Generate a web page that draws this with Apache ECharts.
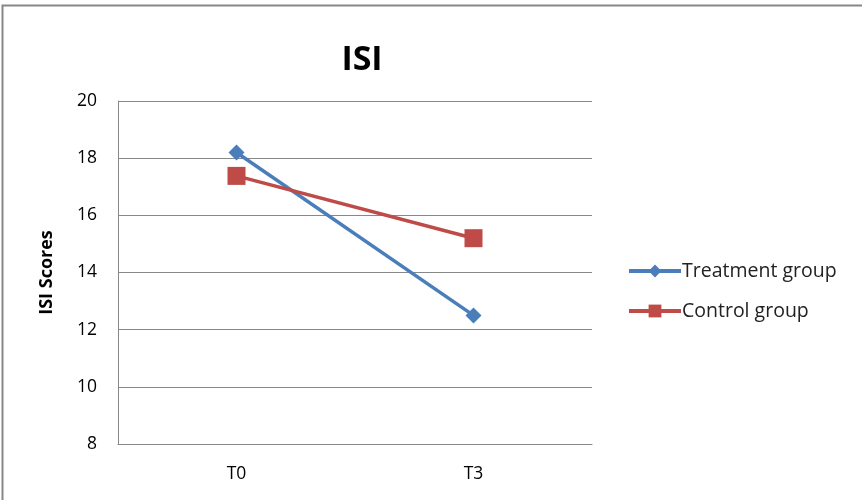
<!DOCTYPE html>
<html><head><meta charset="utf-8">
<script src="https://cdn.jsdelivr.net/npm/echarts@6/dist/echarts.min.js"></script>
<style>html,body{margin:0;padding:0;background:#fff}#c{width:862px;height:500px}</style>
</head><body><div id="c"></div>
<script>
const categories = ['T0', 'T3'];
const treatment = [18.2, 12.5];
const control = [17.38, 15.2];
const yTicks = {min: 8, max: 20, interval: 2};
const chart = echarts.init(document.getElementById('c'));
const font = "'Open Sans', 'Noto Sans', sans-serif";
chart.setOption({
  animation: false,
  backgroundColor: '#fff',
  graphic: [{type: 'rect', shape: {x: 2.5, y: 5.5, width: 900, height: 600}, style: {fill: 'none', stroke: '#878787', lineWidth: 2}, silent: true}],
  title: {text: 'ISI', left: 357, top: 38, textAlign: 'center', textStyle: {fontFamily: font, fontSize: 34, fontWeight: 'bold', color: '#000'}},
  grid: {left: 118, top: 101, width: 474, height: 343, containLabel: false},
  legend: {
    orient: 'vertical', left: 622, top: 256, itemGap: 20, itemWidth: 52, itemHeight: 16,
    lineStyle: {width: 4},
    textStyle: {fontFamily: font, fontSize: 19.5, color: '#222', padding: [0, 0, 0, -4]},
    data: ['Treatment group', 'Control group']
  },
  xAxis: {
    type: 'category', data: categories, boundaryGap: true,
    axisLine: {lineStyle: {color: '#888', width: 1}}, axisTick: {show: false},
    axisLabel: {fontFamily: font, fontSize: 17.5, color: '#000', margin: 21}
  },
  yAxis: {
    type: 'value', min: yTicks.min, max: yTicks.max, interval: yTicks.interval,
    name: 'ISI Scores', nameLocation: 'middle', nameGap: 62, nameRotate: 90,
    nameTextStyle: {fontFamily: font, fontSize: 18, fontWeight: 'bold', color: '#000'},
    axisLine: {show: true, lineStyle: {color: '#888', width: 1}}, axisTick: {show: false},
    splitLine: {lineStyle: {color: '#888', width: 1}},
    axisLabel: {fontFamily: font, fontSize: 17.5, color: '#000', margin: 21}
  },
  series: [
    {name: 'Treatment group', type: 'line', data: treatment, symbol: 'diamond', symbolSize: 16,
     lineStyle: {color: '#4A7EBB', width: 3.5}, itemStyle: {color: '#4A7EBB'}},
    {name: 'Control group', type: 'line', data: control, symbol: 'rect', symbolSize: 18,
     lineStyle: {color: '#BE4B48', width: 3.5}, itemStyle: {color: '#BE4B48'}}
  ]
});
</script></body></html>
